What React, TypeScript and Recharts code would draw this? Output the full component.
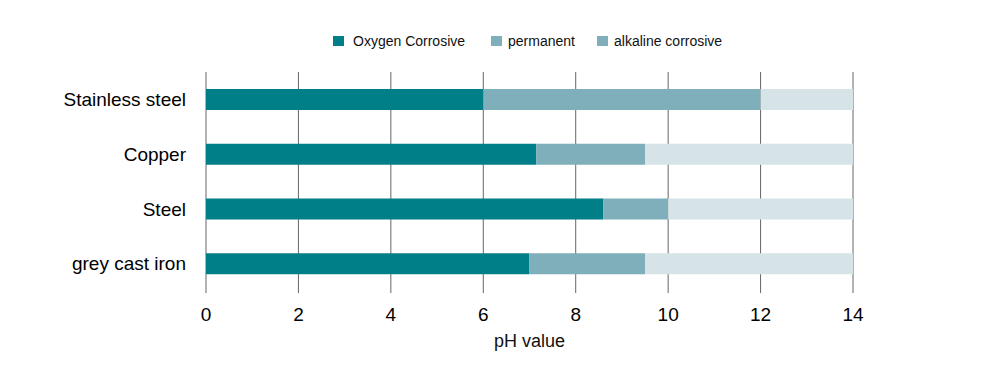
import { BarChart, Bar, XAxis, YAxis, CartesianGrid } from 'recharts';

// Materials and pH ranges (stacked: each value is the width of its segment)
const categories = ['Stainless steel', 'Copper', 'Steel', 'grey cast iron'];
const oxygenCorrosive = [6, 7.15, 8.6, 7];
const permanent = [6, 2.35, 1.4, 2.5];
const alkalineCorrosive = [2, 4.5, 4, 4.5];
const xTicks = [0, 2, 4, 6, 8, 10, 12, 14];

const data = categories.map((name, i) => ({
  name,
  oxygen: oxygenCorrosive[i],
  permanent: permanent[i],
  alkaline: alkalineCorrosive[i],
}));

const FONT = '"Liberation Sans", Arial, Helvetica, sans-serif';

const legendItems = [
  { label: 'Oxygen Corrosive', color: '#007f89', gap: 9, after: 26 },
  { label: 'permanent', color: '#7eafba', gap: 6, after: 22 },
  { label: 'alkaline corrosive', color: '#7eafba', gap: 6, after: 0 },
];

function ChartLegend() {
  return (
    <div
      style={{
        position: 'absolute',
        top: 32,
        left: 333,
        height: 18,
        display: 'flex',
        alignItems: 'center',
        fontFamily: FONT,
        fontSize: 14,
        color: '#111',
      }}
    >
      {legendItems.map((item) => (
        <div key={item.label} style={{ display: 'flex', alignItems: 'center', marginRight: item.after }}>
          <div style={{ width: 11, height: 10, background: item.color, marginRight: item.gap }} />
          <span>{item.label}</span>
        </div>
      ))}
    </div>
  );
}

export default function App() {
  return (
    <div style={{ position: 'relative', width: 1000, height: 376 }}>
      <style>{`body { margin: 0; }`}</style>
      <BarChart
        width={1000}
        height={376}
        data={data}
        layout="vertical"
        margin={{ top: 72, right: 147, bottom: 0, left: 0 }}
        style={{ fontFamily: FONT }}
      >
        <CartesianGrid horizontal={false} stroke="#666" />
        <XAxis
          type="number"
          domain={[0, 14]}
          ticks={xTicks}
          axisLine={false}
          tickLine={{ stroke: '#666' }}
          tickSize={2}
          tickMargin={15}
          height={85}
          tick={{ fontSize: 19, fill: '#000' }}
          label={{ value: 'pH value', position: 'insideBottom', offset: 29, fontSize: 18, fill: '#111' }}
        />
        <YAxis
          type="category"
          dataKey="name"
          width={206}
          axisLine={false}
          tickLine={false}
          tickSize={0}
          tickMargin={20}
          tick={{ fontSize: 19, fill: '#000' }}
        />
        <Bar dataKey="oxygen" name="Oxygen Corrosive" stackId="a" fill="#007f89" barSize={21} isAnimationActive={false} />
        <Bar dataKey="permanent" name="permanent" stackId="a" fill="#7eafba" barSize={21} isAnimationActive={false} />
        <Bar dataKey="alkaline" name="alkaline corrosive" stackId="a" fill="#d6e4e8" barSize={21} isAnimationActive={false} />
      </BarChart>
      <ChartLegend />
    </div>
  );
}
